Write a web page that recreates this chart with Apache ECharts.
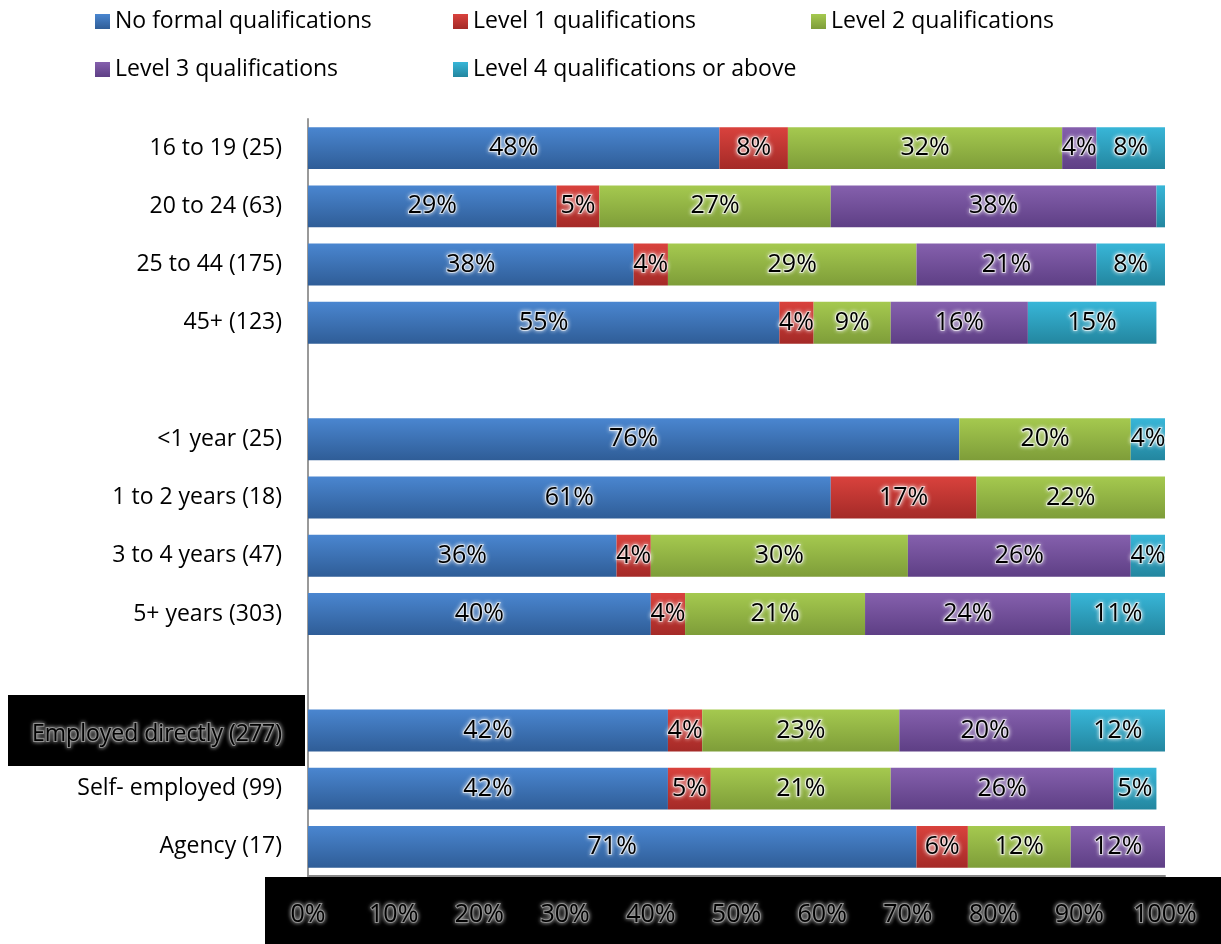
<!DOCTYPE html>
<html><head><meta charset="utf-8">
<script src="https://cdn.jsdelivr.net/npm/echarts@6/dist/echarts.min.js"></script>
<style>html,body{margin:0;padding:0;background:#fff}#c{width:1221px;height:944px}</style>
</head><body><div id="c"></div>
<script>
const categories = ['16 to 19 (25)','20 to 24 (63)','25 to 44 (175)','45+ (123)',' ','<1 year (25)','1 to 2 years (18)','3 to 4 years (47)','5+ years (303)','  ','Employed directly (277)','Self- employed (99)','Agency (17)'];
const seriesNames = ['No formal qualifications','Level 1 qualifications','Level 2 qualifications','Level 3 qualifications','Level 4 qualifications or above'];
const noFormal = [48,29,38,55,null,76,61,36,40,null,42,42,71];
const level1   = [8,5,4,4,null,0,17,4,4,null,4,5,6];
const level2   = [32,27,29,9,null,20,22,30,21,null,23,21,12];
const level3   = [4,38,21,16,null,0,0,26,24,null,20,26,12];
const level4   = [8,1,8,15,null,4,0,4,11,null,12,5,0];
const xTicks = [0,10,20,30,40,50,60,70,80,90,100];
const highlightCategory = 'Employed directly (277)';

const FONT = '"Open Sans",sans-serif';
const colors = [['#4a86d0','#2f5d97'],['#d9423d','#a42a27'],['#a5c94f','#7e9d39'],['#8560ad','#5e3f85'],['#38b6d8','#23869f']];
const grad = c => new echarts.graphic.LinearGradient(0,0,0,1,[{offset:0,color:c[0]},{offset:1,color:c[1]}]);
const allData = [noFormal, level1, level2, level3, level4];

const series = seriesNames.map((n,i)=>({
  name:n, type:'bar', stack:'total', barWidth:'72%',
  itemStyle:{color:grad(colors[i])},
  label:{show:true, position:'inside', fontFamily:FONT, fontSize:25, color:'#000',
    textBorderColor:'rgba(255,255,255,0.6)', textBorderWidth:2,
    textShadowColor:'rgba(255,255,255,0.9)', textShadowBlur:4,
    formatter:p=> (p.value==null||p.value<3)?'':p.value+'%'},
  data: allData[i]
}));

const legendText = {fontFamily:FONT, fontSize:23, color:'#000'};
const legendPos = [[90,5],[448,5],[806,5],[90,53],[448,53]];
const legends = seriesNames.map((n,i)=>({data:[n], left:legendPos[i][0], top:legendPos[i][1],
  itemWidth:15, itemHeight:15, icon:'rect', textStyle:legendText}));

const chart = echarts.init(document.getElementById('c'));
chart.setOption({
  animation:false,
  legend:legends,
  graphic:[{type:'rect', left:265, top:877, shape:{width:956, height:67}, style:{fill:'#000'}, z:-1}],
  grid:{left:308, right:56, top:119, bottom:68, containLabel:false},
  xAxis:{type:'value', min:0, max:100, interval:10,
    axisLine:{show:true, lineStyle:{color:'#888', width:2}},
    axisTick:{show:false}, splitLine:{show:false},
    axisLabel:{margin:26, fontFamily:FONT, fontSize:25, color:'#000',
      textBorderColor:'rgba(150,150,150,0.9)', textBorderWidth:2,
      textShadowColor:'#999', textShadowBlur:4,
      formatter:v=> xTicks.includes(v)? v+'%':''}},
  yAxis:{type:'category', data:categories, inverse:true,
    axisLine:{show:true, lineStyle:{color:'#999', width:2}}, axisTick:{show:false},
    axisLabel:{margin:3, fontFamily:FONT, fontSize:23, color:'#000',
      formatter:v=> v===highlightCategory? '{hl|'+v+'}' : '{n|'+v+'}',
      rich:{
        n:{fontFamily:FONT, fontSize:23, color:'#000', padding:[0,23,0,0]},
        hl:{fontFamily:FONT, fontSize:23, color:'#000', textBorderColor:'rgba(150,150,150,0.9)', textBorderWidth:2,
          textShadowColor:'#999', textShadowBlur:4,
          backgroundColor:'#000', padding:[28,23,20,24]}}}},
  series: series
});
</script></body></html>
